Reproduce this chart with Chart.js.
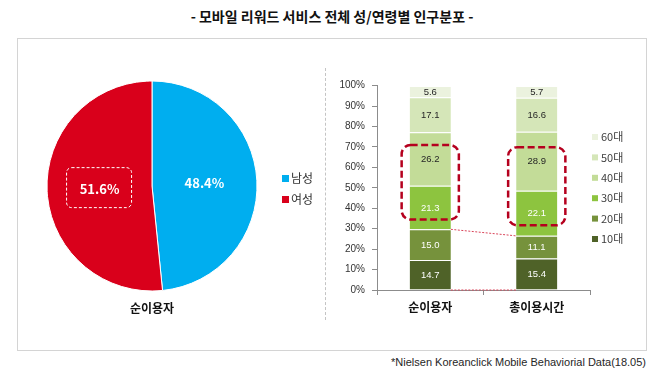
<!DOCTYPE html>
<html>
<head>
<meta charset="utf-8">
<script src="https://cdn.jsdelivr.net/npm/chart.js@4.4.1/dist/chart.umd.min.js"></script>
<style>
  body { margin: 0; width: 669px; height: 388px; background: #fff; position: relative; overflow: hidden; font-family: 'Noto Sans CJK KR', sans-serif; }
  #title { position: absolute; left: 0; top: 5px; width: 664px; text-align: center; font-size: 14px; font-weight: bold; color: #111; line-height: 22px; }
  #box { position: absolute; left: 17px; top: 38px; width: 630px; height: 313px; box-sizing: border-box; border: 1px solid #d4d4d4; }
  #sep { position: absolute; left: 325px; top: 68px; height: 252px; border-left: 1px dashed #c4c4c4; }
  #pieWrap { position: absolute; left: 20px; top: 60px; width: 300px; height: 280px; }
  #barWrap { position: absolute; left: 326px; top: 60px; width: 334px; height: 280px; }
  #note { position: absolute; right: 23px; top: 354px; font-family: 'Liberation Sans', Arial, sans-serif; font-size: 11px; color: #262626; line-height: 16px; }
</style>
</head>
<body>
<div id="title">- 모바일 리워드 서비스 전체 성/연령별 인구분포 -</div>
<div id="box"></div>
<div id="sep"></div>
<div id="pieWrap"><canvas id="pieChart" width="300" height="280"></canvas></div>
<div id="barWrap"><canvas id="barChart" width="334" height="280"></canvas></div>
<div id="note">*Nielsen Koreanclick Mobile Behaviorial Data(18.05)</div>

<script>
// ---- data ----
const genderLabels = ['남성', '여성'];
const genderValues = [48.4, 51.6];
const genderColors = ['#00AEEF', '#D9001B'];
const pieCaption = '순이용자';

const barCategories = ['순이용자', '총이용시간'];
const ageLabels = ['10대', '20대', '30대', '40대', '50대', '60대'];
const age10 = [14.7, 15.4];
const age20 = [15.0, 11.1];
const age30 = [21.3, 22.1];
const age40 = [26.2, 28.9];
const age50 = [17.1, 16.6];
const age60 = [5.6, 5.7];
const ageSeries = [age10, age20, age30, age40, age50, age60];
const ageColors = ['#4F6228', '#76923C', '#8DC43F', '#C3DC98', '#D5E6B8', '#EBF2DE'];
const ageTextColors = ['#fff', '#fff', '#fff', '#262626', '#262626', '#262626'];

const KR = '"Noto Sans CJK KR", sans-serif';
const LAT = '"Liberation Sans", Arial, sans-serif';

// ---- pie ----
const piePlugin = {
  id: 'piePlugin',
  afterDatasetsDraw(chart) {
    const ctx = chart.ctx;
    const arcs = chart.getDatasetMeta(0).data;
    ctx.save();
    ctx.textAlign = 'center';
    ctx.textBaseline = 'middle';
    ctx.font = 'bold 13px ' + KR;
    ctx.fillStyle = '#fff';
    arcs.forEach((arc, i) => {
      const p = arc.tooltipPosition();
      ctx.fillText(genderValues[i].toFixed(1) + '%', p.x, p.y);
      if (i === 1) {
        ctx.save();
        ctx.strokeStyle = '#fff';
        ctx.lineWidth = 1;
        ctx.setLineDash([3, 2]);
        ctx.beginPath();
        ctx.roundRect(p.x - 33, p.y - 21, 65, 40, 5);
        ctx.stroke();
        ctx.restore();
      }
    });

    // caption under pie
    const area = chart.chartArea;
    ctx.fillStyle = '#111';
    ctx.font = 'bold 12px ' + KR;
    ctx.fillText(pieCaption, (area.left + area.right) / 2, area.bottom + 17);

    // legend
    ctx.textAlign = 'left';
    ctx.font = '12px ' + KR;
    genderLabels.forEach((lab, i) => {
      const y = 118 + i * 21;
      ctx.fillStyle = genderColors[i];
      ctx.fillRect(262, y - 3, 7, 7);
      ctx.fillStyle = '#333';
      ctx.fillText(lab, 271, y);
    });
    ctx.restore();
  }
};

new Chart(document.getElementById('pieChart'), {
  type: 'pie',
  data: {
    labels: genderLabels,
    datasets: [{
      data: genderValues,
      backgroundColor: genderColors,
      borderColor: '#fff',
      borderWidth: 1
    }]
  },
  options: {
    responsive: false,
    animation: false,
    layout: { padding: { left: 26.5, right: 62.5, top: 20.5, bottom: 48.5 } },
    plugins: { legend: { display: false }, tooltip: { enabled: false } }
  },
  plugins: [piePlugin]
});

// ---- stacked bar ----
const barPlugin = {
  id: 'barPlugin',
  afterDatasetsDraw(chart) {
    const ctx = chart.ctx;
    ctx.save();

    // value labels
    ctx.textAlign = 'center';
    ctx.textBaseline = 'middle';
    ctx.font = '9.5px ' + LAT;
    ageSeries.forEach((vals, d) => {
      chart.getDatasetMeta(d).data.forEach((el, i) => {
        ctx.fillStyle = ageTextColors[d];
        ctx.fillText(vals[i].toFixed(1), el.x, (el.y + el.base) / 2 + 0.5);
      });
    });

    // series lines between the bars
    const m0 = chart.getDatasetMeta(0).data;
    const m1 = chart.getDatasetMeta(1).data;
    ctx.strokeStyle = '#D9455A';
    ctx.lineWidth = 1;
    ctx.setLineDash([2, 1.5]);
    ctx.beginPath();
    ctx.moveTo(m1[0].x + m1[0].width / 2, m1[0].y);
    ctx.lineTo(m1[1].x - m1[1].width / 2, m1[1].y);
    ctx.moveTo(m0[0].x + m0[0].width / 2, m0[0].base + 0.5);
    ctx.lineTo(m0[1].x - m0[1].width / 2, m0[1].base + 0.5);
    ctx.stroke();

    // highlight boxes around 30s/40s
    const m2 = chart.getDatasetMeta(2).data;
    const m3 = chart.getDatasetMeta(3).data;
    ctx.strokeStyle = '#B5001E';
    ctx.lineWidth = 2.5;
    ctx.setLineDash([7, 3.5]);
    m2.forEach((el, i) => {
      const c40 = (m3[i].y + m3[i].base) / 2;
      const c30 = (el.y + el.base) / 2;
      const top = c40 - 14;
      const bottom = c30 + 12;
      const left = el.x - el.width / 2 - 8;
      const w = el.width + 16;
      ctx.beginPath();
      ctx.roundRect(left, top, w, bottom - top, 9);
      ctx.stroke();
    });
    ctx.setLineDash([]);

    // legend (top = 60대)
    ctx.textAlign = 'left';
    ctx.font = '11px ' + KR;
    for (let k = ageLabels.length - 1, row = 0; k >= 0; k--, row++) {
      const y = 77 + row * 20.4;
      ctx.fillStyle = ageColors[k];
      ctx.fillRect(266, y - 3, 6, 6);
      ctx.fillStyle = '#404040';
      ctx.fillText(ageLabels[k], 275, y);
    }
    ctx.restore();
  }
};

new Chart(document.getElementById('barChart'), {
  type: 'bar',
  data: {
    labels: barCategories,
    datasets: ageSeries.map((vals, d) => ({
      label: ageLabels[d],
      data: vals,
      backgroundColor: ageColors[d],
      borderColor: '#fff',
      borderWidth: { top: 1, left: 0, right: 0, bottom: 0 },
      borderSkipped: false,
      categoryPercentage: 1,
      barPercentage: 0.387
    }))
  },
  options: {
    responsive: false,
    animation: false,
    layout: { padding: { left: 0, right: 70, top: 25.7, bottom: 20 } },
    plugins: { legend: { display: false }, tooltip: { enabled: false } },
    scales: {
      x: {
        stacked: true,
        afterFit(scale) { scale.height = 30; },
        grid: { drawOnChartArea: false, drawTicks: true, tickLength: 5, color: '#8c8c8c' },
        border: { color: '#8c8c8c' },
        ticks: { padding: 5, color: '#111', font: { family: KR, size: 12, weight: 'bold' } }
      },
      y: {
        stacked: true,
        min: 0,
        max: 100,
        afterFit(scale) { scale.width = 51; },
        grid: { drawOnChartArea: false, drawTicks: true, tickLength: 5, color: '#8c8c8c' },
        border: { color: '#8c8c8c' },
        ticks: {
          stepSize: 10,
          padding: 7,
          color: '#333',
          font: { family: LAT, size: 10 },
          callback: v => v + '%'
        }
      }
    }
  },
  plugins: [barPlugin]
});
</script>
</body>
</html>
